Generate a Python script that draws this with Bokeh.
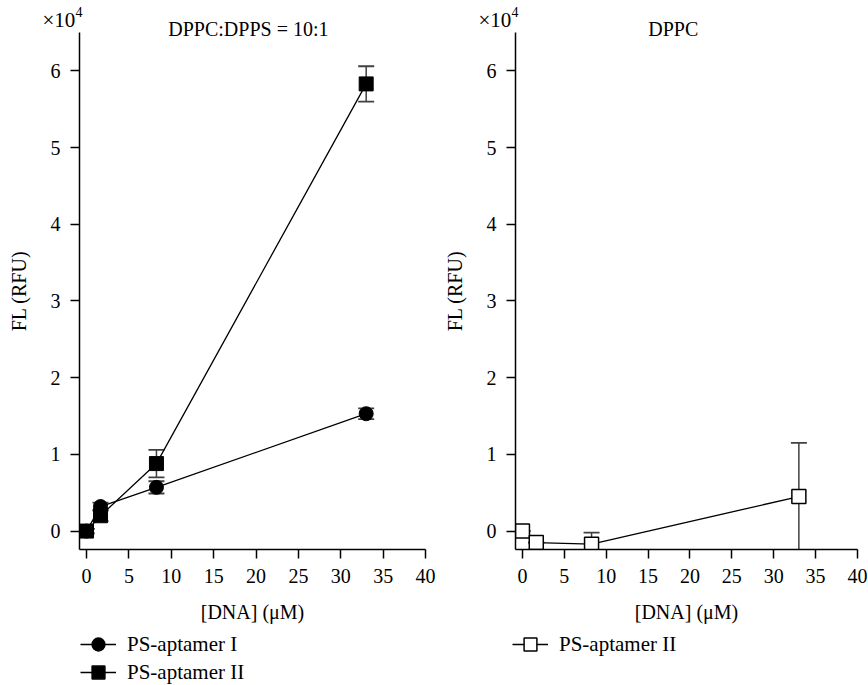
from bokeh.plotting import figure
from bokeh.layouts import row, column
from bokeh.models import Range1d, FixedTicker, Legend, LegendItem
from bokeh.core.properties import value
from bokeh.embed import file_html
from bokeh.resources import INLINE

# ---------------- data (FL in units of x10^4 RFU) ----------------
dna_conc = [0.0, 1.65, 8.25, 33.0]

aptI_mix = [0.0, 0.32, 0.57, 1.53]
aptI_mix_err = [0.03, 0.05, 0.08, 0.07]

aptII_mix = [0.0, 0.20, 0.88, 5.83]
aptII_mix_err = [0.03, 0.07, 0.18, 0.23]

aptII_dppc = [0.0, -0.15, -0.17, 0.45]
aptII_dppc_err = [0.0, 0.0, 0.15, 0.70]

panel_titles = ["DPPC:DPPS = 10:1", "DPPC"]
title_x = [19.1, 18.0]
x_ticks = [0, 5, 10, 15, 20, 25, 30, 35, 40]
y_ticks = [0, 1, 2, 3, 4, 5, 6]
x_label = "[DNA] (\u03bcM)"
y_label = "FL (RFU)"
mult_text = "\u00d710"
mult_exp = "4"
legend_I = "PS-aptamer I"
legend_II = "PS-aptamer II"

FONT = "Liberation Serif"
H_MAIN = 630
H_LEG = 55
FRAME_TOP = 32
FRAME_BOTTOM = 549
ERR_COLOR = "#404040"
X0, X1 = -0.83, 40
Y0, Y1 = -0.24, 6.5


def make_fig(width, left_b, right_b, title):
    p = figure(width=width, height=H_MAIN, output_backend="svg", toolbar_location=None,
               x_range=Range1d(X0, X1), y_range=Range1d(Y0, Y1),
               min_border_left=left_b, min_border_right=right_b,
               min_border_top=FRAME_TOP, min_border_bottom=H_MAIN - FRAME_BOTTOM,
               title=None)
    p.outline_line_color = None
    p.xgrid.visible = False
    p.ygrid.visible = False
    for ax in (p.xaxis[0], p.yaxis[0]):
        ax.axis_line_width = 1.5
        ax.axis_line_color = "black"
        ax.major_tick_line_width = 1.5
        ax.major_tick_line_color = "black"
        ax.major_tick_out = 9
        ax.major_tick_in = 0
        ax.minor_tick_line_color = None
        ax.major_label_text_font = FONT
        ax.major_label_text_font_size = "20px"
        ax.major_label_text_color = "black"
        ax.axis_label_text_font = FONT
        ax.axis_label_text_font_size = "20px"
        ax.axis_label_text_font_style = "normal"
        ax.axis_label_text_color = "black"
    p.xaxis.ticker = FixedTicker(ticks=x_ticks)
    p.yaxis.ticker = FixedTicker(ticks=y_ticks)
    p.xaxis.major_label_standoff = 10
    p.yaxis.major_label_standoff = 10
    p.xaxis.axis_label = x_label
    p.yaxis.axis_label = y_label
    p.xaxis.axis_label_standoff = 15
    p.yaxis.axis_label_standoff = 18
    # x10^4 multiplier and panel title (overlay level: drawn outside the frame)
    p.text(x=[X0], y=[Y1], text=[mult_text], x_offset=-37, y_offset=-13,
           text_font=value(FONT), text_font_size="21px", text_align="left",
           text_baseline="alphabetic", text_color="black", level="overlay")
    p.text(x=[X0], y=[Y1], text=[mult_exp], x_offset=-4, y_offset=-21,
           text_font=value(FONT), text_font_size="14px", text_align="left",
           text_baseline="alphabetic", text_color="black", level="overlay")
    p.text(x=[title[1]], y=[Y1], text=[title[0]], y_offset=-4,
           text_font=value(FONT), text_font_size="20px", text_align="center",
           text_baseline="alphabetic", text_color="black", level="overlay")
    return p


def errorbars(p, x, y, err):
    lo = [a - b for a, b in zip(y, err)]
    hi = [a + b for a, b in zip(y, err)]
    p.segment(x0=x, y0=lo, x1=x, y1=hi, line_color=ERR_COLOR, line_width=1.5)
    p.scatter(x=x, y=hi, marker="dash", size=16, line_color=ERR_COLOR, line_width=1.8)
    p.scatter(x=x, y=lo, marker="dash", size=16, line_color=ERR_COLOR, line_width=1.8)


def legend_fig(width):
    # legend strip below each panel; its ranges are far from the data so only the legend shows
    q = figure(width=width, height=H_LEG, output_backend="svg", toolbar_location=None,
               x_range=Range1d(100, 101), y_range=Range1d(100, 101),
               x_axis_location=None, y_axis_location=None,
               min_border=0, title=None)
    q.outline_line_color = None
    q.xgrid.visible = False
    q.ygrid.visible = False
    return q


def add_legend_entry(q, label, xs, ys, marker, fill, vx, vy):
    ln = q.line(x=xs, y=ys, line_color="black", line_width=1.3)
    mk = q.scatter(x=xs, y=ys, marker=marker, size=14, fill_color=fill,
                   line_color="black", line_width=1.5)
    leg = Legend(items=[LegendItem(label=label, renderers=[ln, mk])], location=(vx, vy),
                 glyph_width=36, glyph_height=32, label_height=32, spacing=0,
                 label_standoff=11, padding=0, margin=0,
                 border_line_color=None, background_fill_alpha=0,
                 label_text_font=FONT, label_text_font_size="21px",
                 label_text_color="black", label_text_baseline="middle")
    q.add_layout(leg, "center")


# ---------------- left panel ----------------
p1 = make_fig(440, 79, 15, (panel_titles[0], title_x[0]))
errorbars(p1, dna_conc, aptI_mix, aptI_mix_err)
errorbars(p1, dna_conc, aptII_mix, aptII_mix_err)
p1.line(dna_conc, aptI_mix, line_color="black", line_width=1.3)
p1.line(dna_conc, aptII_mix, line_color="black", line_width=1.3)
p1.scatter(dna_conc, aptI_mix, marker="circle", size=14, fill_color="black", line_color="black")
p1.scatter(dna_conc, aptII_mix, marker="square", size=14, fill_color="black", line_color="black")

q1 = legend_fig(440)
add_legend_entry(q1, legend_I, dna_conc, aptI_mix, "circle", "black", 80, 25)
add_legend_entry(q1, legend_II, dna_conc, aptII_mix, "square", "black", 80, -3)

# ---------------- right panel ----------------
p2 = make_fig(428, 70, 11, (panel_titles[1], title_x[1]))
errorbars(p2, dna_conc, aptII_dppc, aptII_dppc_err)
p2.line(dna_conc, aptII_dppc, line_color="black", line_width=1.3)
p2.scatter(dna_conc, aptII_dppc, marker="square", size=14, fill_color="white",
           line_color="black", line_width=1.5)

q2 = legend_fig(428)
add_legend_entry(q2, legend_II, dna_conc, aptII_dppc, "square", "white", 72, 25)

layout = column(row(p1, p2), row(q1, q2))
open("out.html", "w").write(file_html(layout, INLINE))
